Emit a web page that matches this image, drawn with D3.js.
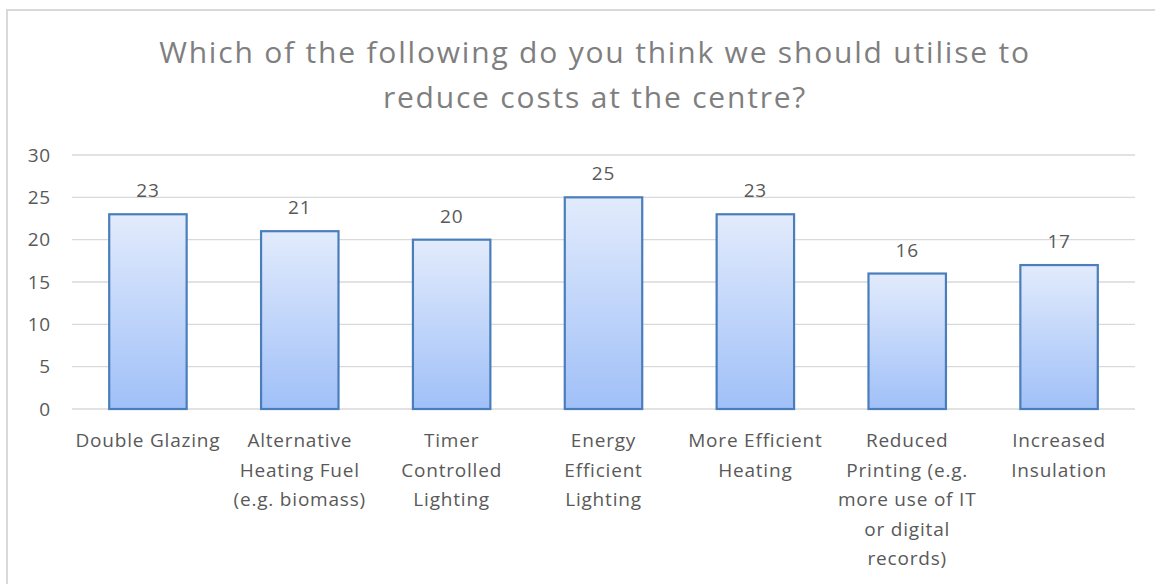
<!DOCTYPE html>
<html>
<head>
<meta charset="utf-8">
<script src="https://cdn.jsdelivr.net/npm/d3@7"></script>
<style>
  html, body { margin: 0; padding: 0; background: #fff; }
  svg { display: block; font-family: "Open Sans", Lato, sans-serif; }
</style>
</head>
<body>
<svg id="chart" width="1155" height="584"></svg>
<script>
// Survey responses: which cost-saving measures the centre should use
// (line breaks mark where each category label wraps)
const categories = [
  "Double Glazing",
  "Alternative\nHeating Fuel\n(e.g. biomass)",
  "Timer\nControlled\nLighting",
  "Energy\nEfficient\nLighting",
  "More Efficient\nHeating",
  "Reduced\nPrinting (e.g.\nmore use of IT\nor digital\nrecords)",
  "Increased\nInsulation"
];
const votes = [23, 21, 20, 25, 23, 16, 17];
const yTicks = [0, 5, 10, 15, 20, 25, 30];
const titleLines = [
  "Which of the following do you think we should utilise to",
  "reduce costs at the centre?"
];

const svg = d3.select("#chart");
const W = 1155, H = 584;
const plotLeft = 72, plotRight = 1135, plotTop = 155, plotBottom = 409;
const textColor = "#595959";
const labelSize = 19, labelSpacing = 0.8;

// chart frame
svg.append("rect")
  .attr("x", 7).attr("y", 10)
  .attr("width", W + 10).attr("height", H + 10)
  .attr("fill", "#fff").attr("stroke", "#d9d9d9").attr("stroke-width", 2);

const grad = svg.append("defs").append("linearGradient")
  .attr("id", "barFill").attr("x1", 0).attr("y1", 0).attr("x2", 0).attr("y2", 1);
grad.append("stop").attr("offset", "0%").attr("stop-color", "#e2ebfc");
grad.append("stop").attr("offset", "100%").attr("stop-color", "#a0c0f8");

// title
svg.append("g").selectAll("text").data(titleLines).join("text")
  .attr("x", 595).attr("y", (d, i) => 63 + i * 45)
  .attr("text-anchor", "middle")
  .attr("font-size", 30)
  .attr("letter-spacing", 1.8)
  .attr("fill", "#7f7f7f")
  .text(d => d);

const x = d3.scaleBand().domain(categories).range([plotLeft, plotRight])
  .paddingInner(0.49).paddingOuter(0.245);
const y = d3.scaleLinear().domain([0, 30]).range([plotBottom, plotTop]);

// gridlines
svg.append("g").selectAll("line").data(yTicks).join("line")
  .attr("x1", plotLeft).attr("x2", plotRight)
  .attr("y1", d => y(d)).attr("y2", d => y(d))
  .attr("stroke", "#d9d9d9").attr("stroke-width", 1.3);

// y axis labels
const yAxis = svg.append("g")
  .attr("transform", `translate(${plotLeft},0)`)
  .call(d3.axisLeft(y).tickValues(yTicks).tickSize(0).tickPadding(21));
yAxis.select(".domain").remove();
yAxis.selectAll("text")
  .attr("font-size", labelSize).attr("letter-spacing", labelSpacing)
  .attr("fill", textColor)
  .attr("font-family", "'Open Sans', sans-serif");

// bars
svg.append("g").selectAll("rect").data(votes).join("rect")
  .attr("x", (d, i) => x(categories[i]))
  .attr("y", d => y(d))
  .attr("width", x.bandwidth())
  .attr("height", d => y(0) - y(d))
  .attr("fill", "url(#barFill)")
  .attr("stroke", "#4a7ebb").attr("stroke-width", 2.2);

// value labels
svg.append("g").selectAll("text").data(votes).join("text")
  .attr("x", (d, i) => x(categories[i]) + x.bandwidth() / 2)
  .attr("y", d => y(d) - 17)
  .attr("text-anchor", "middle")
  .attr("font-size", labelSize).attr("letter-spacing", labelSpacing)
  .attr("fill", textColor)
  .text(d => d);

// category labels
svg.append("g").selectAll("text").data(categories).join("text")
  .attr("text-anchor", "middle")
  .attr("font-size", labelSize).attr("letter-spacing", labelSpacing)
  .attr("fill", textColor)
  .attr("y", 447)
  .each(function (c) {
    const cx = x(c) + x.bandwidth() / 2;
    d3.select(this).selectAll("tspan").data(c.split("\n")).join("tspan")
      .attr("x", cx)
      .attr("dy", (d, i) => i === 0 ? 0 : 29.5)
      .text(d => d);
  });
</script>
</body>
</html>
